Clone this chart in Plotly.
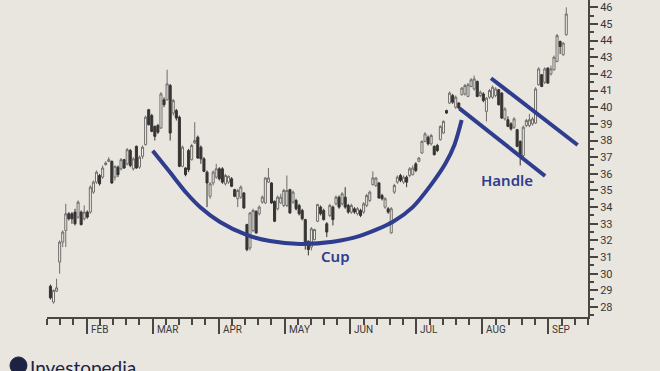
import plotly.graph_objects as go

# ---------------- data ----------------
open_ = [29.25, 28.3, 28.95, 30.7, 31.9, 32.6, 33.6, 33.6, 33.7, 33.4,
         33.7, 33.3, 33.7, 33.7, 34.9, 35.5, 35.9, 35.8, 36.55, 36.75,
         36.75, 35.8, 36.4, 36.3, 36.85, 36.6, 37.4, 36.3, 37.65, 36.4,
         37.05, 37.75, 39.85, 39.5, 38.85, 38.9, 38.75, 40.45, 40.45, 41.3,
         39.65, 39.8, 39.4, 36.45, 36.35, 37.4, 36.85, 37.85, 38.2, 37.6,
         36.9, 36.1, 34.65, 35.45, 35.8, 36.3, 36.3, 35.4, 35.5, 35.7,
         35.05, 34.5, 34.6, 34.85, 32.95, 31.55, 32.6, 33.75, 33.6, 34.3,
         34.25, 35.5, 35.45, 34.35, 33.9, 34.25, 34.1, 34.1, 35.05, 34.3,
         34.4, 34.1, 33.8, 33.25, 31.95, 31.6, 32.05, 33.15, 34.0, 33.8,
         33.0, 33.5, 34.0, 34.2, 34.6, 34.2, 34.6, 34.1, 33.7, 33.9,
         33.6, 33.8, 33.7, 34.1, 34.4, 35.35, 35.3, 35.45, 34.7, 34.0,
         33.9, 32.45, 34.9, 35.5, 35.9, 35.5, 35.8, 35.9, 35.95, 36.6,
         36.75, 37.25, 37.95, 38.2, 37.8, 37.65, 37.7, 38.05, 38.45, 39.8,
         40.25, 40.7, 40.0, 40.25, 40.75, 40.8, 40.65, 41.25, 41.1, 41.55,
         40.7, 40.8, 39.75, 40.6, 40.6, 40.7, 41.05, 40.85, 39.3, 39.25,
         39.0, 38.8, 38.65, 37.95, 37.1, 38.9, 38.9, 39.0, 39.05, 41.35,
         41.95, 41.5, 42.35, 42.0, 42.25, 42.75, 43.95, 43.15, 44.35]
high = [29.35, 29.05, 29.7, 32.0, 32.6, 34.2, 33.7, 33.7, 33.9, 34.4,
        33.8, 34.1, 33.8, 35.3, 35.6, 36.2, 36.0, 36.5, 36.75, 37.0,
        36.8, 36.5, 36.5, 36.95, 36.9, 37.55, 37.5, 37.0, 37.7, 37.1,
        37.7, 39.5, 39.9, 39.6, 38.9, 39.0, 40.9, 40.6, 42.25, 41.4,
        40.5, 39.9, 39.5, 37.7, 36.4, 37.5, 37.8, 39.1, 38.3, 37.7,
        37.0, 36.2, 35.5, 36.2, 36.6, 36.4, 36.4, 36.0, 35.9, 35.8,
        35.1, 35.1, 35.3, 34.9, 33.0, 33.7, 33.9, 33.8, 34.1, 34.7,
        35.8, 36.35, 35.5, 34.4, 34.7, 34.8, 35.1, 35.9, 35.1, 35.0,
        34.5, 34.2, 33.9, 33.3, 32.0, 32.8, 32.7, 34.2, 34.1, 33.9,
        33.1, 34.2, 34.1, 34.7, 34.7, 34.9, 35.2, 34.2, 34.2, 34.0,
        34.0, 33.9, 34.3, 34.8, 35.0, 36.15, 35.8, 35.5, 34.8, 34.6,
        34.0, 34.0, 35.4, 35.9, 36.0, 35.9, 35.9, 36.4, 36.5, 36.7,
        37.0, 38.0, 38.5, 38.3, 38.4, 37.7, 37.8, 38.9, 39.2, 39.85,
        40.95, 40.8, 40.7, 40.3, 41.2, 41.4, 41.45, 41.75, 41.9, 41.6,
        41.0, 40.9, 40.6, 41.1, 41.3, 41.2, 41.1, 40.9, 40.0, 39.45,
        39.1, 39.4, 38.7, 38.0, 38.9, 39.3, 39.6, 39.4, 41.2, 42.4,
        42.0, 42.4, 42.4, 42.5, 43.1, 44.4, 44.0, 43.9, 46.0]
low = [28.45, 28.2, 28.9, 30.0, 31.6, 31.6, 33.2, 33.0, 32.9, 33.3,
       32.9, 33.2, 33.3, 33.6, 34.8, 35.4, 35.3, 35.7, 36.5, 36.7,
       35.4, 35.6, 35.8, 36.2, 36.3, 36.5, 36.4, 36.2, 36.3, 36.3,
       36.9, 37.7, 38.9, 38.5, 38.0, 38.4, 38.7, 40.0, 40.4, 38.0,
       39.5, 39.2, 36.4, 36.4, 35.85, 36.1, 36.8, 37.8, 36.9, 36.6,
       36.1, 34.0, 34.5, 35.3, 35.7, 35.6, 35.4, 35.3, 35.4, 35.2,
       34.6, 34.0, 34.5, 33.9, 31.35, 31.4, 32.5, 32.4, 33.5, 34.2,
       34.2, 35.45, 34.2, 33.1, 33.8, 34.2, 34.0, 34.0, 33.6, 34.2,
       33.8, 33.5, 33.2, 31.45, 31.1, 31.4, 32.0, 33.1, 33.5, 33.2,
       32.2, 33.4, 32.9, 34.1, 33.9, 34.1, 33.9, 33.6, 33.6, 33.6,
       33.5, 33.4, 33.6, 34.0, 34.3, 35.3, 35.2, 34.5, 34.4, 33.9,
       33.6, 32.4, 34.8, 35.4, 35.5, 35.4, 35.2, 35.8, 35.9, 36.1,
       36.7, 37.2, 37.9, 37.7, 37.7, 37.1, 37.3, 38.0, 38.4, 39.6,
       40.2, 40.2, 39.9, 39.9, 40.7, 40.7, 40.6, 41.2, 41.0, 40.6,
       40.6, 40.3, 39.15, 40.5, 40.5, 40.6, 40.1, 39.3, 39.2, 38.8,
       38.6, 38.7, 37.6, 36.5, 37.0, 38.8, 38.8, 38.9, 39.0, 41.3,
       41.2, 41.4, 41.4, 41.9, 42.2, 42.7, 43.2, 43.1, 44.3]
close = [28.55, 29.0, 29.15, 31.9, 32.5, 33.6, 33.3, 33.3, 33.0, 34.3,
         32.95, 33.7, 33.4, 35.2, 35.5, 36.1, 35.4, 36.35, 36.65, 36.85,
         35.45, 36.45, 35.95, 36.85, 36.35, 37.45, 36.5, 36.9, 36.35, 37.0,
         37.6, 39.4, 38.95, 38.55, 38.25, 38.5, 40.8, 40.15, 41.4, 38.45,
         40.4, 39.35, 36.45, 37.6, 35.95, 36.25, 37.7, 38.0, 36.95, 36.9,
         36.15, 35.45, 35.4, 36.1, 36.3, 35.7, 35.5, 35.9, 35.85, 35.25,
         34.65, 35.0, 35.2, 33.95, 31.45, 33.65, 33.8, 32.45, 34.0, 34.6,
         35.75, 35.75, 34.25, 33.15, 34.6, 34.6, 35.0, 35.0, 33.65, 34.9,
         33.9, 33.6, 33.3, 31.75, 31.45, 32.7, 32.65, 34.15, 33.6, 33.25,
         32.5, 34.1, 33.25, 34.6, 34.0, 34.8, 34.0, 33.7, 34.1, 33.7,
         33.9, 33.5, 34.2, 34.7, 34.9, 35.75, 35.75, 34.55, 34.5, 34.5,
         33.7, 33.9, 35.3, 35.8, 35.6, 35.8, 35.5, 36.3, 36.35, 36.2,
         36.95, 37.95, 38.4, 37.8, 38.3, 37.15, 37.4, 38.85, 39.15, 39.65,
         40.85, 40.3, 40.6, 39.95, 41.15, 41.3, 41.35, 41.65, 41.7, 40.65,
         40.9, 40.4, 40.55, 41.0, 41.2, 41.1, 40.15, 39.35, 39.9, 38.85,
         38.7, 39.3, 37.65, 37.05, 38.8, 39.2, 39.25, 39.3, 41.1, 42.3,
         41.25, 42.3, 41.45, 42.3, 43.0, 44.3, 43.65, 43.85, 45.6]

month_labels = ["FEB", "MAR", "APR", "MAY", "JUN", "JUL", "AUG", "SEP"]
price_ticks = list(range(28, 47))

# annotation curves (trading-day index, price)
cup_x = [33.31, 38.94, 44.38, 48.71, 55.23, 63.92, 71.51, 81.28, 92.03,
         100.82, 111.57, 118.0, 124.0, 128.6, 131.6, 133.94]
cup_y = [37.39, 36.09, 34.83, 34.01, 33.11, 32.33, 31.96, 31.79, 31.92,
         32.27, 33.12, 34.0, 35.35, 36.6, 37.75, 39.23]
handle_top_x = [143.5, 171.7]
handle_top_y = [41.74, 37.73]
handle_bot_x = [133.2, 161.1]
handle_bot_y = [39.93, 35.87]

# ---------------- figure ----------------
BG = "#e9e5df"
AX = "#4a4644"
BLUE = "#2f3d8e"

days = list(range(len(close)))

fig = go.Figure()
fig.add_trace(go.Candlestick(
    x=days, open=open_, high=high, low=low, close=close,
    increasing=dict(fillcolor="#f2f0ec", line=dict(color="#6f6d6a", width=1)),
    decreasing=dict(fillcolor="#353433", line=dict(color="#353433", width=1)),
    whiskerwidth=0, showlegend=False, hoverinfo="skip",
))
fig.add_trace(go.Scatter(x=cup_x, y=cup_y, mode="lines",
                         line=dict(color=BLUE, width=4, shape="spline", smoothing=0.8),
                         showlegend=False, hoverinfo="skip"))
fig.add_trace(go.Scatter(x=handle_top_x, y=handle_top_y, mode="lines",
                         line=dict(color=BLUE, width=4), showlegend=False, hoverinfo="skip"))
fig.add_trace(go.Scatter(x=handle_bot_x, y=handle_bot_y, mode="lines",
                         line=dict(color=BLUE, width=4), showlegend=False, hoverinfo="skip"))

# month axis geometry
m0 = 11.8
mstep = 21.48
minor = mstep / 5
month_pos = [m0 + mstep * k for k in range(len(month_labels))]
x_lo = m0 - 3 * minor - 0.03
x_hi = month_pos[-1] + 3 * minor + 0.03

fig.update_layout(
    width=660, height=371,
    margin=dict(l=47, r=72, t=0, b=54),
    paper_bgcolor=BG, plot_bgcolor=BG,
    boxgap=0.05,
    font=dict(family="Roboto", color="#3a3836"),
    xaxis=dict(
        range=[x_lo, x_hi], rangeslider=dict(visible=False),
        showgrid=False, zeroline=False,
        showline=True, linecolor=AX, linewidth=2,
        ticks="outside", tickvals=month_pos, ticklen=15, tickwidth=1.5, tickcolor=AX,
        showticklabels=False,
        minor=dict(tick0=m0, dtick=minor, ticks="outside", ticklen=6,
                   tickwidth=1.5, tickcolor=AX, showgrid=False),
    ),
    yaxis=dict(
        side="right", range=[27.40, 46.44],
        showgrid=False, zeroline=False,
        showline=True, linecolor=AX, linewidth=2,
        ticks="outside", tickvals=price_ticks, ticklen=8, tickwidth=1.5, tickcolor=AX,
        tickfont=dict(size=11, color="#3a3836"),
        minor=dict(dtick=0.5, tick0=28, ticks="outside", ticklen=4,
                   tickwidth=1.5, tickcolor=AX, showgrid=False),
    ),
)

# month labels to the right of their ticks
for pos, lab in zip(month_pos, month_labels):
    fig.add_annotation(x=pos, y=-0.038, xref="x", yref="paper",
                       text=lab, showarrow=False, xanchor="left", yanchor="middle",
                       xshift=2, font=dict(size=10, color="#3a3836", family="Roboto"))

# pattern labels
fig.add_annotation(x=93.0, y=31.07, text="Cup", showarrow=False,
                   font=dict(size=15, color=BLUE, family="Noto Sans", weight=600))
fig.add_annotation(x=148.8, y=35.64, text="Handle", showarrow=False,
                   font=dict(size=15, color=BLUE, family="Noto Sans", weight=600))

# y-axis line extension below the x axis
fig.add_shape(type="line", xref="paper", yref="paper", x0=1, x1=1, y0=0, y1=-0.017,
              line=dict(color=AX, width=2))

# brand mark
fig.add_shape(type="circle", xref="paper", yref="paper",
              x0=-0.0684, x1=-0.0370, y0=-0.126, y1=-0.180,
              fillcolor="#1c2243", line=dict(color="#1c2243", width=1))
fig.add_annotation(x=-0.036, y=-0.117, xref="paper", yref="paper",
                   text="Investopedia", showarrow=False, xanchor="left", yanchor="top",
                   font=dict(size=19, color="#1c2243", family="Lato"))

fig.write_html("out.html")
